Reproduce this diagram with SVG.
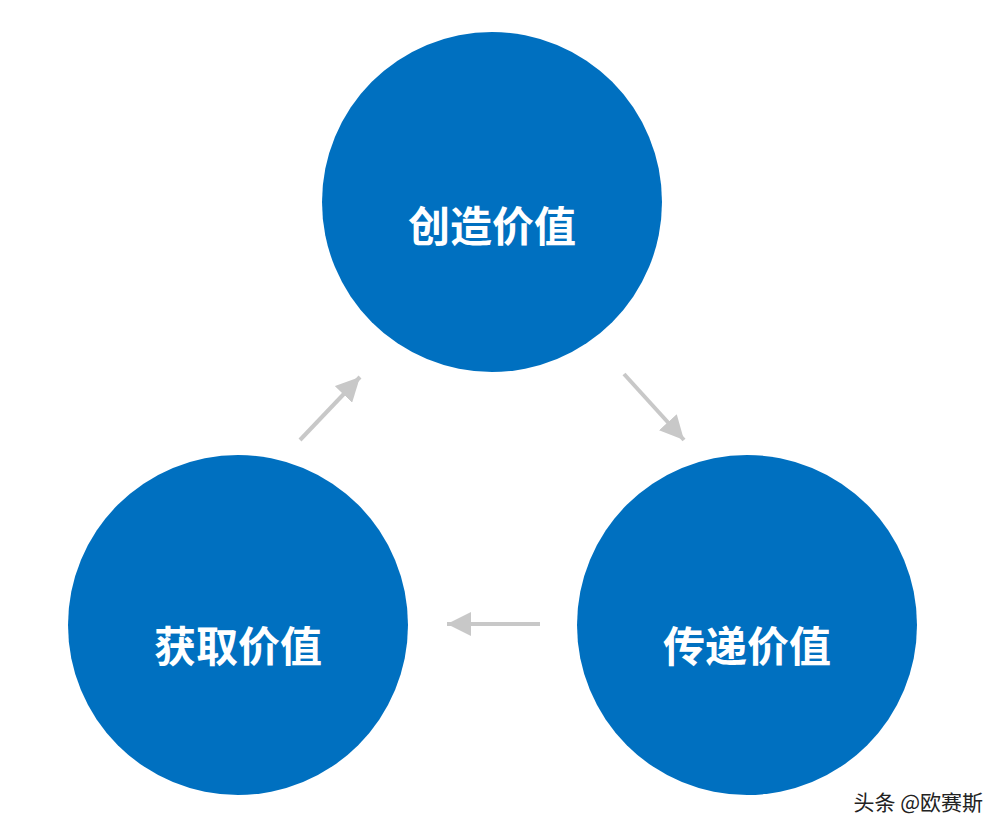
<svg xmlns="http://www.w3.org/2000/svg" width="1005" height="840" viewBox="0 0 1005 840">
<style>
.n{fill:#0070c0}
.t{fill:#fff;font-family:"Noto Sans CJK SC",sans-serif;font-weight:bold;font-size:42px;text-anchor:middle}
.c{stroke:#c8c8c8;stroke-width:4;fill:none;marker-end:url(#a)}
</style>
<defs><marker id="a" markerUnits="userSpaceOnUse" markerWidth="26" markerHeight="24" refX="24" refY="12" orient="auto"><path d="M0,0L24,12L0,24Z" fill="#c8c8c8"/></marker></defs>
<rect width="1005" height="840" fill="#fff"/>
<g id="create"><circle class="n" cx="492" cy="202" r="170"/><text class="t" x="492" y="242">创造价值</text></g>
<g id="deliver"><circle class="n" cx="747" cy="625" r="170"/><text class="t" x="747" y="662">传递价值</text></g>
<g id="capture"><circle class="n" cx="238" cy="625" r="170"/><text class="t" x="238" y="662">获取价值</text></g>
<g id="connectors">
<line class="c" x1="300" y1="440" x2="360" y2="377"/>
<line class="c" x1="624" y1="374" x2="684" y2="440"/>
<line class="c" x1="540" y1="624" x2="447" y2="624"/>
</g>
<text x="983" y="810" text-anchor="end" font-family="Noto Sans CJK SC,sans-serif" font-size="21" fill="#222">头条 @欧赛斯</text>
</svg>
